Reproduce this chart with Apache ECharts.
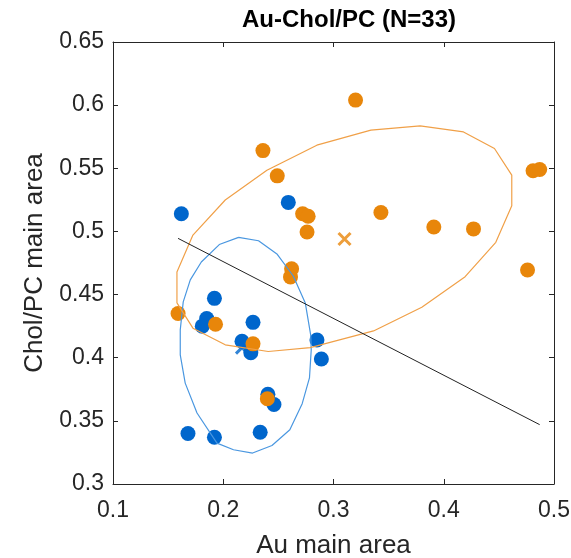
<!DOCTYPE html>
<html>
<head>
<meta charset="utf-8">
<script src="https://cdn.jsdelivr.net/npm/echarts@6/dist/echarts.min.js"></script>
<style>
  html, body { margin: 0; padding: 0; background: #fff; }
  #chart { width: 571px; height: 558px; }
</style>
</head>
<body>
<div id="chart"></div>
<script>
// Group A (blue) and group B (orange) points: [Au main area, Chol/PC main area]
const blueX = [0.259, 0.162, 0.192, 0.185, 0.181, 0.227, 0.217, 0.225, 0.2405, 0.246, 0.168, 0.192, 0.2335, 0.285, 0.289];
const blueY = [0.523, 0.514, 0.447, 0.431, 0.425, 0.428, 0.413, 0.404, 0.371, 0.363, 0.340, 0.337, 0.341, 0.414, 0.399];
const orangeX = [0.320, 0.481, 0.487, 0.343, 0.391, 0.427, 0.476, 0.272, 0.277, 0.276, 0.236, 0.249, 0.262, 0.261, 0.159, 0.193, 0.227, 0.240];
const orangeY = [0.604, 0.548, 0.549, 0.515, 0.5035, 0.502, 0.4695, 0.514, 0.512, 0.4995, 0.564, 0.544, 0.4705, 0.464, 0.435, 0.4265, 0.411, 0.3675];

// Group centroids
const blueCentroid = [0.217, 0.408];
const orangeCentroid = [0.310, 0.494];

// Confidence ellipse outlines (polygon vertices)
const blueEllipseX = [0.2139, 0.2320, 0.2490, 0.2635, 0.2744, 0.2793, 0.2798, 0.2782, 0.2716, 0.2604, 0.2442, 0.2266, 0.2093, 0.1943, 0.1762, 0.1655, 0.1610, 0.1610, 0.1637, 0.1701, 0.1801, 0.1964, 0.2139];
const blueEllipseY = [0.4953, 0.4926, 0.4819, 0.4647, 0.4434, 0.4181, 0.4062, 0.3840, 0.3636, 0.3430, 0.3305, 0.3245, 0.3271, 0.3324, 0.3562, 0.3799, 0.4023, 0.4220, 0.4442, 0.4616, 0.4758, 0.4896, 0.4953];
const orangeEllipseX = [0.158, 0.158, 0.1725, 0.2018, 0.2396, 0.2849, 0.3339, 0.3786, 0.4179, 0.4460, 0.4617, 0.4617, 0.4472, 0.4194, 0.3801, 0.3363, 0.2789, 0.2408, 0.2018, 0.1725, 0.158];
const orangeEllipseY = [0.4434, 0.4679, 0.4971, 0.5249, 0.5485, 0.5683, 0.5802, 0.5836, 0.5788, 0.5657, 0.5446, 0.5203, 0.4914, 0.4642, 0.4400, 0.4212, 0.4080, 0.4049, 0.4102, 0.4234, 0.4434];

// Separating line end points
const lineX = [0.159, 0.487];
const lineY = [0.4945, 0.347];

// Axis settings
const xMin = 0.1, xMax = 0.5, xStep = 0.1;
const yMin = 0.3, yMax = 0.65, yStep = 0.05;

const zip = (xs, ys) => xs.map((x, i) => [x, ys[i]]);

const BLUE = '#0066CC';
const ORANGE = '#E8860A';
const BLUE_LINE = '#4A97E0';
const ORANGE_LINE = '#F0A048';
const AXIS = '#262626';
const FONT = 'Liberation Sans, Arial, sans-serif';
const CROSS = 'path://M0,0L10,10M10,0L0,10';

const chart = echarts.init(document.getElementById('chart'), null, { renderer: 'canvas' });

const tickCommon = { show: true, inside: true, length: 5, lineStyle: { color: AXIS, width: 1 } };

chart.setOption({
  animation: false,
  backgroundColor: '#fff',
  title: {
    text: 'Au-Chol/PC (N=33)',
    left: 344, top: 3, textAlign: 'center',
    textStyle: { fontFamily: FONT, fontWeight: 'bold', fontSize: 24, color: '#000' }
  },
  grid: { left: 113, right: 17, top: 42, bottom: 74, containLabel: false, outerBoundsMode: 'none' },
  xAxis: [{
    type: 'value', min: xMin, max: xMax, interval: xStep,
    name: 'Au main area', nameLocation: 'middle', nameGap: 49,
    nameTextStyle: { fontFamily: FONT, fontSize: 26, color: AXIS },
    axisLine: { show: true, onZero: false, lineStyle: { color: AXIS, width: 1 } },
    axisTick: tickCommon,
    axisLabel: { fontFamily: FONT, fontSize: 23, color: AXIS, margin: 15 },
    splitLine: { show: false }
  }, {
    type: 'value', position: 'top', min: xMin, max: xMax, interval: xStep,
    axisLine: { show: true, onZero: false, lineStyle: { color: AXIS, width: 1 } },
    axisTick: tickCommon, axisLabel: { show: false }, splitLine: { show: false }
  }],
  yAxis: [{
    type: 'value', min: yMin, max: yMax, interval: yStep,
    name: 'Chol/PC main area', nameLocation: 'middle', nameGap: 65,
    nameTextStyle: { fontFamily: FONT, fontSize: 26, color: AXIS },
    axisLine: { show: true, onZero: false, lineStyle: { color: AXIS, width: 1 } },
    axisTick: tickCommon,
    axisLabel: { fontFamily: FONT, fontSize: 23, color: AXIS, margin: 9 },
    splitLine: { show: false }
  }, {
    type: 'value', position: 'right', min: yMin, max: yMax, interval: yStep,
    axisLine: { show: true, onZero: false, lineStyle: { color: AXIS, width: 1 } },
    axisTick: tickCommon, axisLabel: { show: false }, splitLine: { show: false }
  }],
  series: [
    {
      type: 'line', data: zip(blueEllipseX, blueEllipseY), symbol: 'none',
      lineStyle: { color: BLUE_LINE, width: 1.2 }, silent: true
    },
    {
      type: 'line', data: zip(orangeEllipseX, orangeEllipseY), symbol: 'none',
      lineStyle: { color: ORANGE_LINE, width: 1.2 }, silent: true
    },
    {
      type: 'line', data: zip(lineX, lineY), symbol: 'none',
      lineStyle: { color: '#222', width: 1 }, silent: true
    },
    {
      type: 'scatter', data: [blueCentroid], symbol: CROSS, symbolSize: 12,
      itemStyle: { color: 'none', borderColor: BLUE, borderWidth: 3 }
    },
    {
      type: 'scatter', data: zip(blueX, blueY), symbolSize: 15,
      itemStyle: { color: BLUE, opacity: 1 }
    },
    {
      type: 'scatter', data: zip(orangeX, orangeY), symbolSize: 15,
      itemStyle: { color: ORANGE, opacity: 1 }
    },
    {
      type: 'scatter', data: [orangeCentroid], symbol: CROSS, symbolSize: 12,
      itemStyle: { color: 'none', borderColor: ORANGE, borderWidth: 3 }
    }
  ]
});
</script>
</body>
</html>
